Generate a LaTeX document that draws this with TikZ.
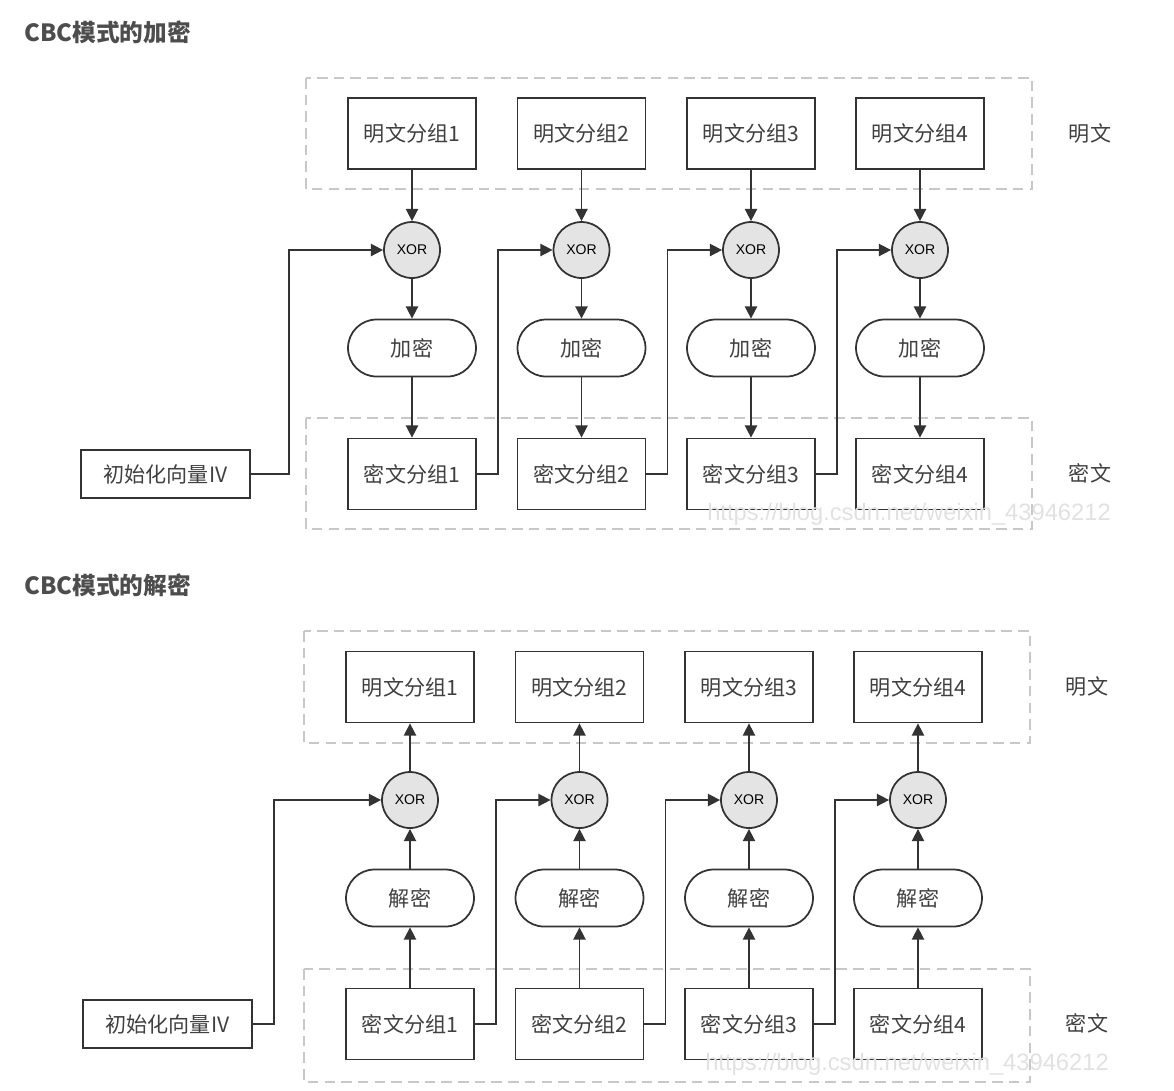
\documentclass[tikz,border=0pt]{standalone}
\usepackage{fontspec}
\setmainfont{Noto Sans CJK SC}
\newfontfamily\latinsans{Liberation Sans}
\usepackage{tikz}
\usetikzlibrary{arrows.meta,positioning}
\definecolor{cbcline}{RGB}{51,51,51}
\definecolor{cbctext}{RGB}{64,64,64}
\definecolor{cbcgroup}{RGB}{200,200,200}
\definecolor{cbcxor}{RGB}{228,228,228}
\definecolor{cbctitle}{RGB}{77,77,77}
\definecolor{cbcmark}{RGB}{225,225,225}

\begin{document}
\begin{tikzpicture}[
  x=0.02cm, y=-0.02cm,
  >={Triangle[length=7pt,width=7pt]},
  ttl/.style={anchor=west, text=cbctitle, font=\bfseries\fontsize{13.5}{16}\selectfont},
  grp/.style={draw=cbcgroup, line width=0.8pt, dash pattern=on 6pt off 3.5pt},
  blk/.style={draw=cbcline, line width=1pt, fill=white, minimum width=2.56cm, minimum height=1.42cm, inner sep=0pt, text=cbctext, font=\fontsize{12}{14}\selectfont},
  ivbox/.style={draw=cbcline, line width=1pt, fill=white, minimum width=3.38cm, minimum height=0.96cm, inner sep=0pt, text=cbctext, font=\fontsize{12}{14}\selectfont},
  xorc/.style={circle, draw=cbcline, line width=1pt, fill=cbcxor, minimum size=1.12cm, inner sep=0pt, font=\latinsans\fontsize{8}{9}\selectfont},
  cryp/.style={draw=cbcline, line width=1pt, fill=white, rounded corners=0.57cm, minimum width=2.56cm, minimum height=1.14cm, inner sep=0pt, text=cbctext, font=\fontsize{12}{14}\selectfont},
  side/.style={text=cbctext, font=\fontsize{12}{14}\selectfont},
  wmark/.style={text=cbcmark, font=\latinsans\fontsize{13.5}{15}\selectfont},
  arr/.style={->, line width=0.9pt, cbcline}
]
\useasboundingbox (0,0) rectangle (1174,1090);

% CBC encryption
\node[ttl] (enctitle) at (18,32) {CBC模式的加密};
\draw[grp] (306,78) rectangle (1032,189);
\draw[grp] (306,418) rectangle (1032,529);

\node[blk] (p1) at (412,133.5) {明文分组1};
\node[blk] (p2) at (581.5,133.5) {明文分组2};
\node[blk] (p3) at (751,133.5) {明文分组3};
\node[blk] (p4) at (920,133.5) {明文分组4};
\node[side] (plab) at (1090,133) {明文};

\node[xorc] (x1) at (412,250) {XOR};
\node[xorc] (x2) at (581.5,250) {XOR};
\node[xorc] (x3) at (751,250) {XOR};
\node[xorc] (x4) at (920,250) {XOR};

\node[cryp] (e1) at (412,348) {加密};
\node[cryp] (e2) at (581.5,348) {加密};
\node[cryp] (e3) at (751,348) {加密};
\node[cryp] (e4) at (920,348) {加密};

\node[blk] (c1) at (412,474) {密文分组1};
\node[blk] (c2) at (581.5,474) {密文分组2};
\node[blk] (c3) at (751,474) {密文分组3};
\node[blk] (c4) at (920,474) {密文分组4};
\node[side] (clab) at (1090,473) {密文};

\node[ivbox] (iv) at (165.5,474) {初始化向量IV};

\draw[arr] (p1) -- (x1);
\draw[arr] (p2) -- (x2);
\draw[arr] (p3) -- (x3);
\draw[arr] (p4) -- (x4);
\draw[arr] (x1) -- (e1);
\draw[arr] (x2) -- (e2);
\draw[arr] (x3) -- (e3);
\draw[arr] (x4) -- (e4);
\draw[arr] (e1) -- (c1);
\draw[arr] (e2) -- (c2);
\draw[arr] (e3) -- (c3);
\draw[arr] (e4) -- (c4);

\draw[arr] (iv.east) -- ++(38,0) |- (x1.west);
\draw[arr] (c1.east) -- ++(21,0) |- (x2.west);
\draw[arr] (c2.east) -- ++(21,0) |- (x3.west);
\draw[arr] (c3.east) -- ++(21,0) |- (x4.west);

\node[wmark] (wm1) at (909,514) {https://blog.csdn.net/weixin\_43946212};

% CBC decryption
\node[ttl] (dectitle) at (18,585) {CBC模式的解密};
\draw[grp] (304,631) rectangle (1030,743);
\draw[grp] (304,969) rectangle (1030,1082);

\node[blk] (dp1) at (410,687) {明文分组1};
\node[blk] (dp2) at (579.5,687) {明文分组2};
\node[blk] (dp3) at (749,687) {明文分组3};
\node[blk] (dp4) at (918,687) {明文分组4};
\node[side] (dplab) at (1087,686) {明文};

\node[xorc] (dx1) at (410,800) {XOR};
\node[xorc] (dx2) at (579.5,800) {XOR};
\node[xorc] (dx3) at (749,800) {XOR};
\node[xorc] (dx4) at (918,800) {XOR};

\node[cryp] (d1) at (410,898) {解密};
\node[cryp] (d2) at (579.5,898) {解密};
\node[cryp] (d3) at (749,898) {解密};
\node[cryp] (d4) at (918,898) {解密};

\node[blk] (dc1) at (410,1024) {密文分组1};
\node[blk] (dc2) at (579.5,1024) {密文分组2};
\node[blk] (dc3) at (749,1024) {密文分组3};
\node[blk] (dc4) at (918,1024) {密文分组4};
\node[side] (dclab) at (1087,1023) {密文};

\node[ivbox] (div) at (167.5,1024) {初始化向量IV};

\draw[arr] (dc1) -- (d1);
\draw[arr] (dc2) -- (d2);
\draw[arr] (dc3) -- (d3);
\draw[arr] (dc4) -- (d4);
\draw[arr] (d1) -- (dx1);
\draw[arr] (d2) -- (dx2);
\draw[arr] (d3) -- (dx3);
\draw[arr] (d4) -- (dx4);
\draw[arr] (dx1) -- (dp1);
\draw[arr] (dx2) -- (dp2);
\draw[arr] (dx3) -- (dp3);
\draw[arr] (dx4) -- (dp4);

\draw[arr] (div.east) -- ++(21,0) |- (dx1.west);
\draw[arr] (dc1.east) -- ++(21,0) |- (dx2.west);
\draw[arr] (dc2.east) -- ++(21,0) |- (dx3.west);
\draw[arr] (dc3.east) -- ++(21,0) |- (dx4.west);

\node[wmark] (wm2) at (907,1064) {https://blog.csdn.net/weixin\_43946212};
\end{tikzpicture}
\end{document}
